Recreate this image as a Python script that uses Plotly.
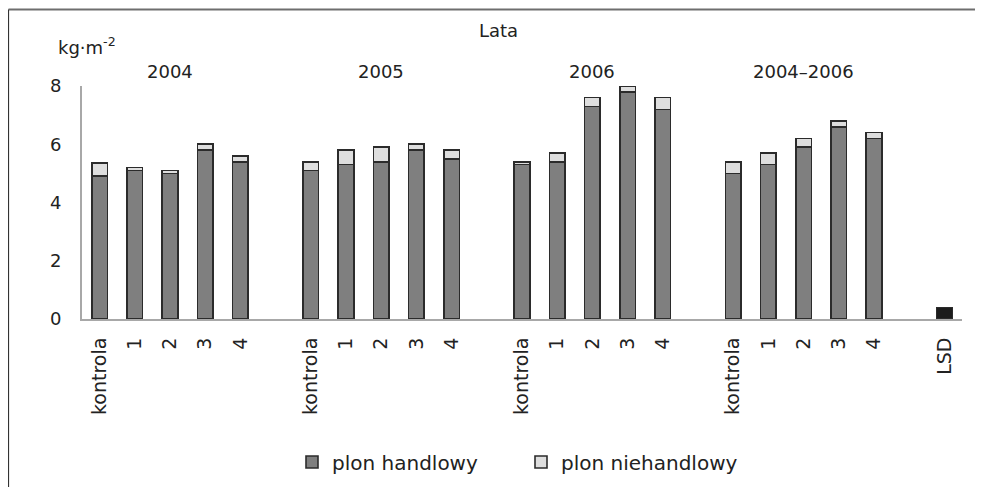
import plotly.graph_objects as go

# ---- data ----
groups = ["2004", "2005", "2006", "2004–2006"]
treatments = ["kontrola", "1", "2", "3", "4"]
handlowy = [
    [4.9, 5.1, 5.0, 5.8, 5.4],   # 2004
    [5.1, 5.3, 5.4, 5.8, 5.5],   # 2005
    [5.3, 5.4, 7.3, 7.8, 7.2],   # 2006
    [5.0, 5.3, 5.9, 6.6, 6.2],   # 2004–2006
]
niehandlowy = [
    [0.45, 0.1, 0.1, 0.2, 0.2],
    [0.3, 0.5, 0.5, 0.2, 0.3],
    [0.1, 0.3, 0.3, 0.2, 0.4],
    [0.4, 0.4, 0.3, 0.2, 0.2],
]
lsd_label = "LSD"
lsd_value = 0.4
y_ticks = [0, 2, 4, 6, 8]

# ---- layout geometry (page pixels; the page body has an 8px margin) ----
OFF = 8
W, H = 983 - OFF, 487 - OFF
PL, PR, PT, PB = 82, 962, 86, 319          # plot area in page pixels
ML, MR, MT = PL - OFF, W - (PR - OFF), PT - OFF
MB = H - (PB - OFF)
PW = W - ML - MR
PH = H - MT - MB

def px_x(p):
    return (p - OFF - ML) / PW

def px_y(p):
    return (PB - p) / PH

xs, ys_h, ys_n, labels = [], [], [], []
for g in range(len(groups)):
    for i, t in enumerate(treatments):
        xs.append(g * 6 + i)
        ys_h.append(handlowy[g][i])
        ys_n.append(niehandlowy[g][i])
        labels.append(t)
lsd_x = len(groups) * 6

FONT = "DejaVu Sans"
OUT = "#2b2b2b"
TXT = "#222"

fig = go.Figure()
fig.add_trace(go.Bar(
    x=xs, y=ys_h, name="plon handlowy", width=0.44,
    marker=dict(color="#7f7f7f", line=dict(color=OUT, width=1.6)),
))
fig.add_trace(go.Bar(
    x=xs, y=ys_n, name="plon niehandlowy", width=0.44,
    marker=dict(color="#dedede", line=dict(color=OUT, width=1.6)),
))
fig.add_trace(go.Bar(
    x=[lsd_x], y=[lsd_value], name=lsd_label, width=0.44, showlegend=False,
    marker=dict(color="#1c1c1c", line=dict(color=OUT, width=1.2)),
))

annotations = [
    dict(text="Lata", x=px_x(498), y=px_y(31), xref="paper", yref="paper",
         xanchor="center", yanchor="middle",
         showarrow=False, font=dict(family=FONT, size=18, color=TXT)),
    dict(text="kg·m<sup>-2</sup>", x=px_x(56), y=px_y(46), xref="paper", yref="paper",
         xanchor="left", yanchor="middle",
         showarrow=False, font=dict(family=FONT, size=18, color=TXT)),
]
for g, name in enumerate(groups):
    annotations.append(dict(
        text=name, x=g * 6 + 2, y=px_y(72), xref="x", yref="paper",
        xanchor="center", yanchor="middle",
        showarrow=False, font=dict(family=FONT, size=18, color=TXT)))

shapes = [
    dict(type="line", xref="paper", yref="paper",
         x0=px_x(8.5), x1=px_x(995), y0=px_y(9.5), y1=px_y(9.5),
         line=dict(color="#6e6e6e", width=2)),
    dict(type="line", xref="paper", yref="paper",
         x0=px_x(8.5), x1=px_x(8.5), y0=px_y(9.5), y1=px_y(500),
         line=dict(color="#333", width=1.2)),
]

fig.update_layout(
    width=W, height=H,
    margin=dict(l=ML, r=MR, t=MT, b=MB, autoexpand=False),
    barmode="stack",
    plot_bgcolor="white", paper_bgcolor="white",
    font=dict(family=FONT, size=18, color=TXT),
    showlegend=True,
    legend=dict(orientation="h", x=px_x(292), y=px_y(462), xanchor="left", yanchor="middle",
                font=dict(family=FONT, size=20, color=TXT),
                entrywidth=184, entrywidthmode="pixels",
                traceorder="normal"),
    annotations=annotations,
    shapes=shapes,
)
fig.update_xaxes(
    range=[-0.5, lsd_x + 0.5],
    tickvals=xs + [lsd_x], ticktext=labels + [lsd_label], tickangle=-90,
    showline=True, linecolor="#a8a8a8", linewidth=2,
    showgrid=False, zeroline=False, ticks="", ticklabelstandoff=9,
    tickfont=dict(family=FONT, size=19, color=TXT),
)
fig.update_yaxes(
    range=[0, 8], tickvals=y_ticks,
    showline=True, linecolor="#a8a8a8", linewidth=2,
    showgrid=False, zeroline=False, ticks="", ticklabelstandoff=15,
    tickfont=dict(family=FONT, size=18, color=TXT),
)
fig.write_html("out.html")
